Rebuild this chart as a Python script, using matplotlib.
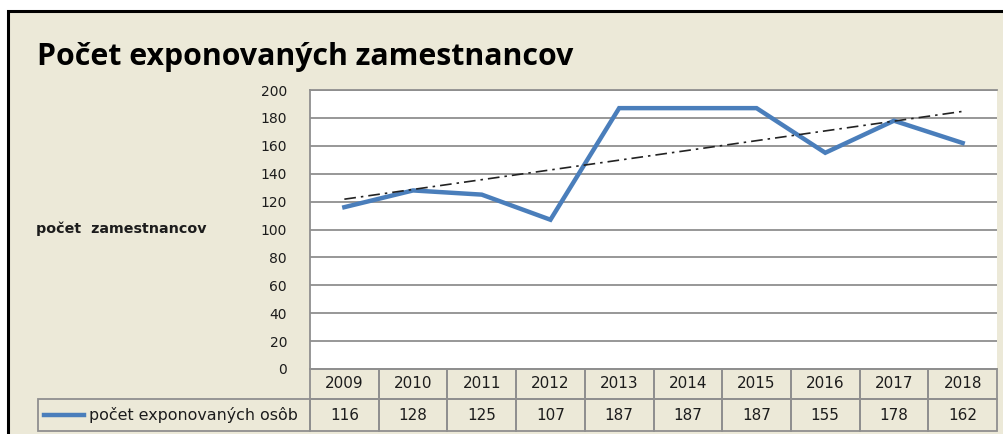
import numpy as np
import matplotlib
matplotlib.use("Agg")
import matplotlib.pyplot as plt
from matplotlib.patches import Rectangle
from matplotlib.lines import Line2D
from matplotlib.transforms import blended_transform_factory

# ---- data ----
years = ["2009", "2010", "2011", "2012", "2013", "2014", "2015", "2016", "2017", "2018"]
values = [116, 128, 125, 107, 187, 187, 187, 155, 178, 162]
series_name = "počet exponovaných osôb"
title = "Počet exponovaných zamestnancov"
ylabel = "počet  zamestnancov"
yticks = [0, 20, 40, 60, 80, 100, 120, 140, 160, 180, 200]

# ---- layout (pixels) ----
W, H = 1004, 434
BG = "#ECE9D8"
GRID = "#8f8f8f"
BLUE = "#4A7EBB"
TXT = "#1c1c1c"
ax_l, ax_r, ax_t, ax_b = 310, 997, 90, 369
row1_b, row2_b = 399, 431
leg_l = 38

fig = plt.figure(figsize=(W / 100, H / 100), dpi=100, facecolor="white")

# outer chart background with black border (top/left visible)
bgrect = Rectangle((8 / W, -0.1), 1.2, (H - 11) / H + 0.1, transform=fig.transFigure,
                   facecolor=BG, edgecolor="black", linewidth=2.2, zorder=-10)
fig.patches.append(bgrect)

ax = fig.add_axes([ax_l / W, (H - ax_b) / H, (ax_r - ax_l) / W, (ax_b - ax_t) / H])
ax.set_zorder(5)
ax.set_facecolor("white")
x = np.arange(len(years))
ax.set_xlim(-0.5, len(years) - 0.5)
ax.set_ylim(0, 200)
ax.set_yticks(yticks)
ax.set_xticks([])
ax.yaxis.grid(True, color=GRID, linewidth=1.3)
ax.set_axisbelow(True)
for s in ["top", "left", "bottom"]:
    ax.spines[s].set_color(GRID)
    ax.spines[s].set_linewidth(1.3)
ax.spines["right"].set_visible(False)
ax.tick_params(axis="y", length=0, pad=16.5, labelsize=10, labelcolor=TXT)

ax.plot(x, values, color=BLUE, linewidth=3.2, solid_joinstyle="miter", zorder=3)
k, b = np.polyfit(x, values, 1)
ax.plot(x, k * x + b, color="#222222", linewidth=1.2, dashes=(7, 3, 1.5, 3), zorder=4)

# ---- data table below ----
ph = ax_b - ax_t
def fy(py):
    return (ax_b - py) / ph
def fx(px):
    return (px - ax_l) / (ax_r - ax_l)

tr = blended_transform_factory(ax.transData, ax.transAxes)
for i, (yr, v) in enumerate(zip(years, values)):
    ax.add_patch(Rectangle((i - 0.5, fy(row1_b)), 1, fy(ax_b) - fy(row1_b), transform=tr,
                           facecolor="none", edgecolor=GRID, linewidth=1.3, clip_on=False))
    ax.add_patch(Rectangle((i - 0.5, fy(row2_b)), 1, fy(row1_b) - fy(row2_b), transform=tr,
                           facecolor="none", edgecolor=GRID, linewidth=1.3, clip_on=False))
    ax.text(i, (fy(ax_b) + fy(row1_b)) / 2, yr, transform=tr, ha="center", va="center",
            fontsize=11, color=TXT, clip_on=False)
    ax.text(i, (fy(row1_b) + fy(row2_b)) / 2, str(v), transform=tr, ha="center", va="center",
            fontsize=11, color=TXT, clip_on=False)

# legend cell
ax.add_patch(Rectangle((fx(leg_l), fy(row2_b)), fx(ax_l) - fx(leg_l), fy(row1_b) - fy(row2_b),
                       transform=ax.transAxes, facecolor="none", edgecolor=GRID, linewidth=1.3,
                       clip_on=False))
ymid = (fy(row1_b) + fy(row2_b)) / 2
ax.add_line(Line2D([fx(44), fx(84)], [ymid, ymid], transform=ax.transAxes, color=BLUE,
                   linewidth=3.2, clip_on=False))
ax.text(fx(89), ymid, series_name, transform=ax.transAxes, ha="left", va="center",
        fontsize=11.4, color=TXT, clip_on=False)

# title and y label
fig.text(37 / W, 1 - 57 / H, title, fontsize=21.8, fontweight="bold", color="black",
         ha="left", va="center", family="Open Sans")
fig.text(36 / W, 1 - 229 / H, ylabel, fontsize=10.3, fontweight="bold", color=TXT,
         ha="left", va="center")

fig.savefig("out.png", dpi=100, facecolor="white")
